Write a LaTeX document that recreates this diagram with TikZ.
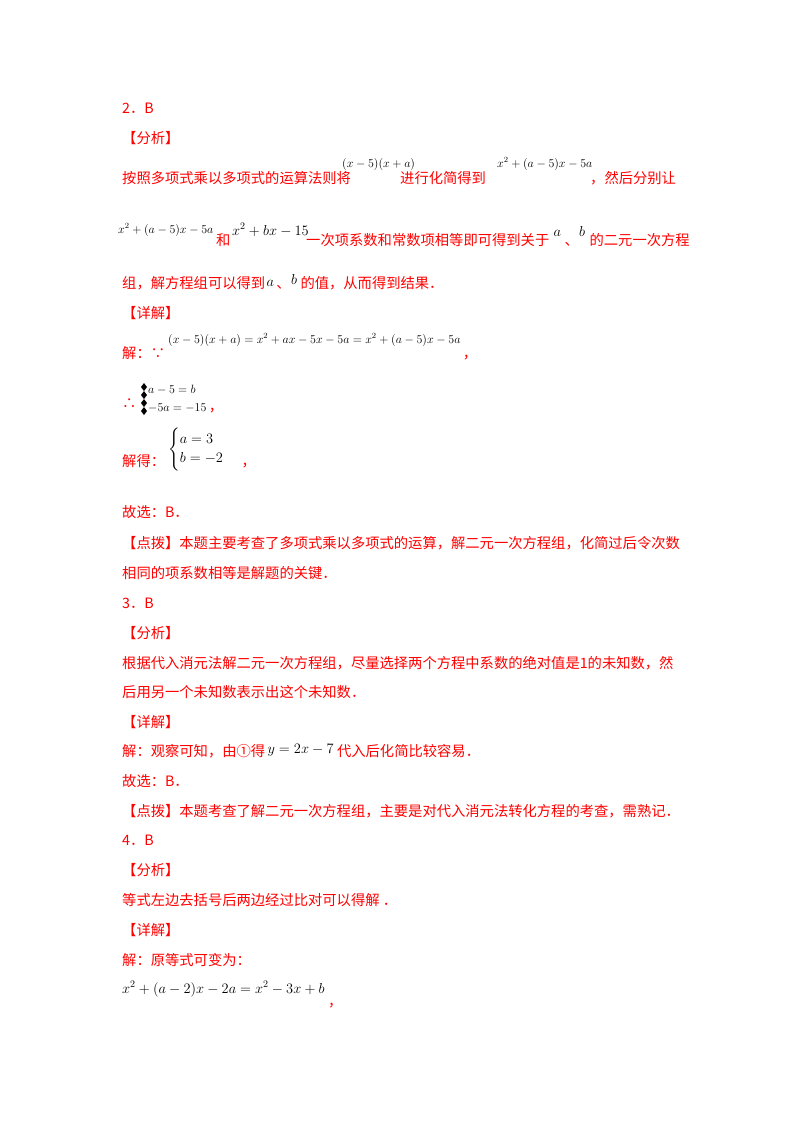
\documentclass[tikz,border=0pt]{standalone}
\usepackage{fontspec}
\setmainfont{Noto Sans CJK SC}
\usepackage{amsmath}
\begin{document}
\begin{tikzpicture}[x=1pt,y=-1pt,
  t/.style={anchor=base west,inner sep=0pt,text=red,font=\fontsize{14.3}{17}\selectfont},
  m/.style={anchor=base west,inner sep=0pt,text=black,font=\fontsize{12}{14}\selectfont},
  mb/.style={anchor=base west,inner sep=0pt,text=black,font=\fontsize{14}{16}\selectfont}]
\useasboundingbox[fill=white] (0,0) rectangle (800,1132);
\node[t] (a1) at (122,113) {2．B};
\node[t] (a2) at (122,143) {【分析】};
\node[t] (a3) at (122,183) {按照多项式乘以多项式的运算法则将};
\node[m] (a4) at (342,167) {$(x-5)(x+a)$};
\node[t] (a5) at (400,183) {进行化简得到};
\node[m] (a6) at (497,167) {$x^2+(a-5)x-5a$};
\node[t] (a7) at (590,183) {，然后分别让};
\node[m] (b1) at (118,233) {$x^2+(a-5)x-5a$};
\node[t] (b2) at (216,245) {和};
\node[mb] (b3) at (232,235) {$x^2+bx-15$};
\node[t] (b4) at (306,245) {一次项系数和常数项相等即可得到关于};
\node[mb] (b5) at ([xshift=4pt,yshift=9pt]b4.base east) {$a$};
\node[t] (b6) at ([xshift=3pt,yshift=-9pt]b5.base east) {、};
\node[mb] (b7) at ([yshift=9pt]b6.base east) {$b$};
\node[t] (b8) at ([xshift=4pt,yshift=-9pt]b7.base east) {的二元一次方程};
\node[t] (c1) at (122,288) {组，解方程组可以得到};
\node[mb] (c2) at ([xshift=1pt,yshift=2pt]c1.base east) {$a$};
\node[t] (c3) at ([xshift=2pt,yshift=-2pt]c2.base east) {、};
\node[mb] (c4) at ([yshift=4pt]c3.base east) {$b$};
\node[t] (c5) at ([xshift=3pt,yshift=-4pt]c4.base east) {的值，从而得到结果．};
\node[t] (d1) at (122,318) {【详解】};
\node[t] (d2) at (122,358) {解：∵};
\node[m] (d3) at (168,343) {$(x-5)(x+a)=x^2+ax-5x-5a=x^2+(a-5)x-5a$};
\node[t] (d4) at ([xshift=2pt,yshift=-15pt]d3.base east) {，};
\node[t] (e1) at (122,408) {∴};
\node[m] (e2) at (148,393) {$a-5=b$};
\node[m] (e3) at (148,411) {$-5a=-15$};
\fill[black] (144,383) -- (147,387) -- (144,391) -- (147,395) -- (144,399) -- (147,403) -- (144,407) -- (147,411) -- (144,415) -- (141,411) -- (144,407) -- (141,403) -- (144,399) -- (141,395) -- (144,391) -- (141,387) -- cycle;
\node[t] (e4) at ([xshift=2pt]e3.base east) {，};
\node[t] (f1) at (122,466) {解得：};
\node[mb] (f2) at (168,453) {$\begin{cases}a=3\\ b=-2\end{cases}$};
\node[t] (f3) at ([xshift=3pt,yshift=-13pt]f2.base east) {，};
\node[t] (g1) at (122,517) {故选：B．};
\node[t] (g2) at (122,548) {【点拨】本题主要考查了多项式乘以多项式的运算，解二元一次方程组，化简过后令次数};
\node[t] (g3) at (122,578) {相同的项系数相等是解题的关键．};
\node[t] (h1) at (122,608) {3．B};
\node[t] (h2) at (122,638) {【分析】};
\node[t] (h3) at (122,668) {根据代入消元法解二元一次方程组，尽量选择两个方程中系数的绝对值是1的未知数，然};
\node[t] (h4) at (122,697) {后用另一个未知数表示出这个未知数．};
\node[t] (h5) at (122,727) {【详解】};
\node[t] (h6) at (122,756) {解：观察可知，由①得};
\node[mb] (h7) at ([xshift=2pt,yshift=3pt]h6.base east) {$y=2x-7$};
\node[t] (h8) at ([xshift=3pt,yshift=-3pt]h7.base east) {代入后化简比较容易．};
\node[t] (h9) at (122,786) {故选：B．};
\node[t] (h10) at (122,816) {【点拨】本题考查了解二元一次方程组，主要是对代入消元法转化方程的考查，需熟记．};
\node[t] (i1) at (122,845) {4．B};
\node[t] (i2) at (122,875) {【分析】};
\node[t] (i3) at (122,905) {等式左边去括号后两边经过比对可以得解\ ．};
\node[t] (i4) at (122,935) {【详解】};
\node[t] (i5) at (122,965) {解：原等式可变为：};
\node[mb] (i6) at (122,993) {$x^2+(a-2)x-2a=x^2-3x+b$};
\node[t] (i7) at ([xshift=3pt,yshift=-13pt]i6.base east) {，};
\end{tikzpicture}
\end{document}
